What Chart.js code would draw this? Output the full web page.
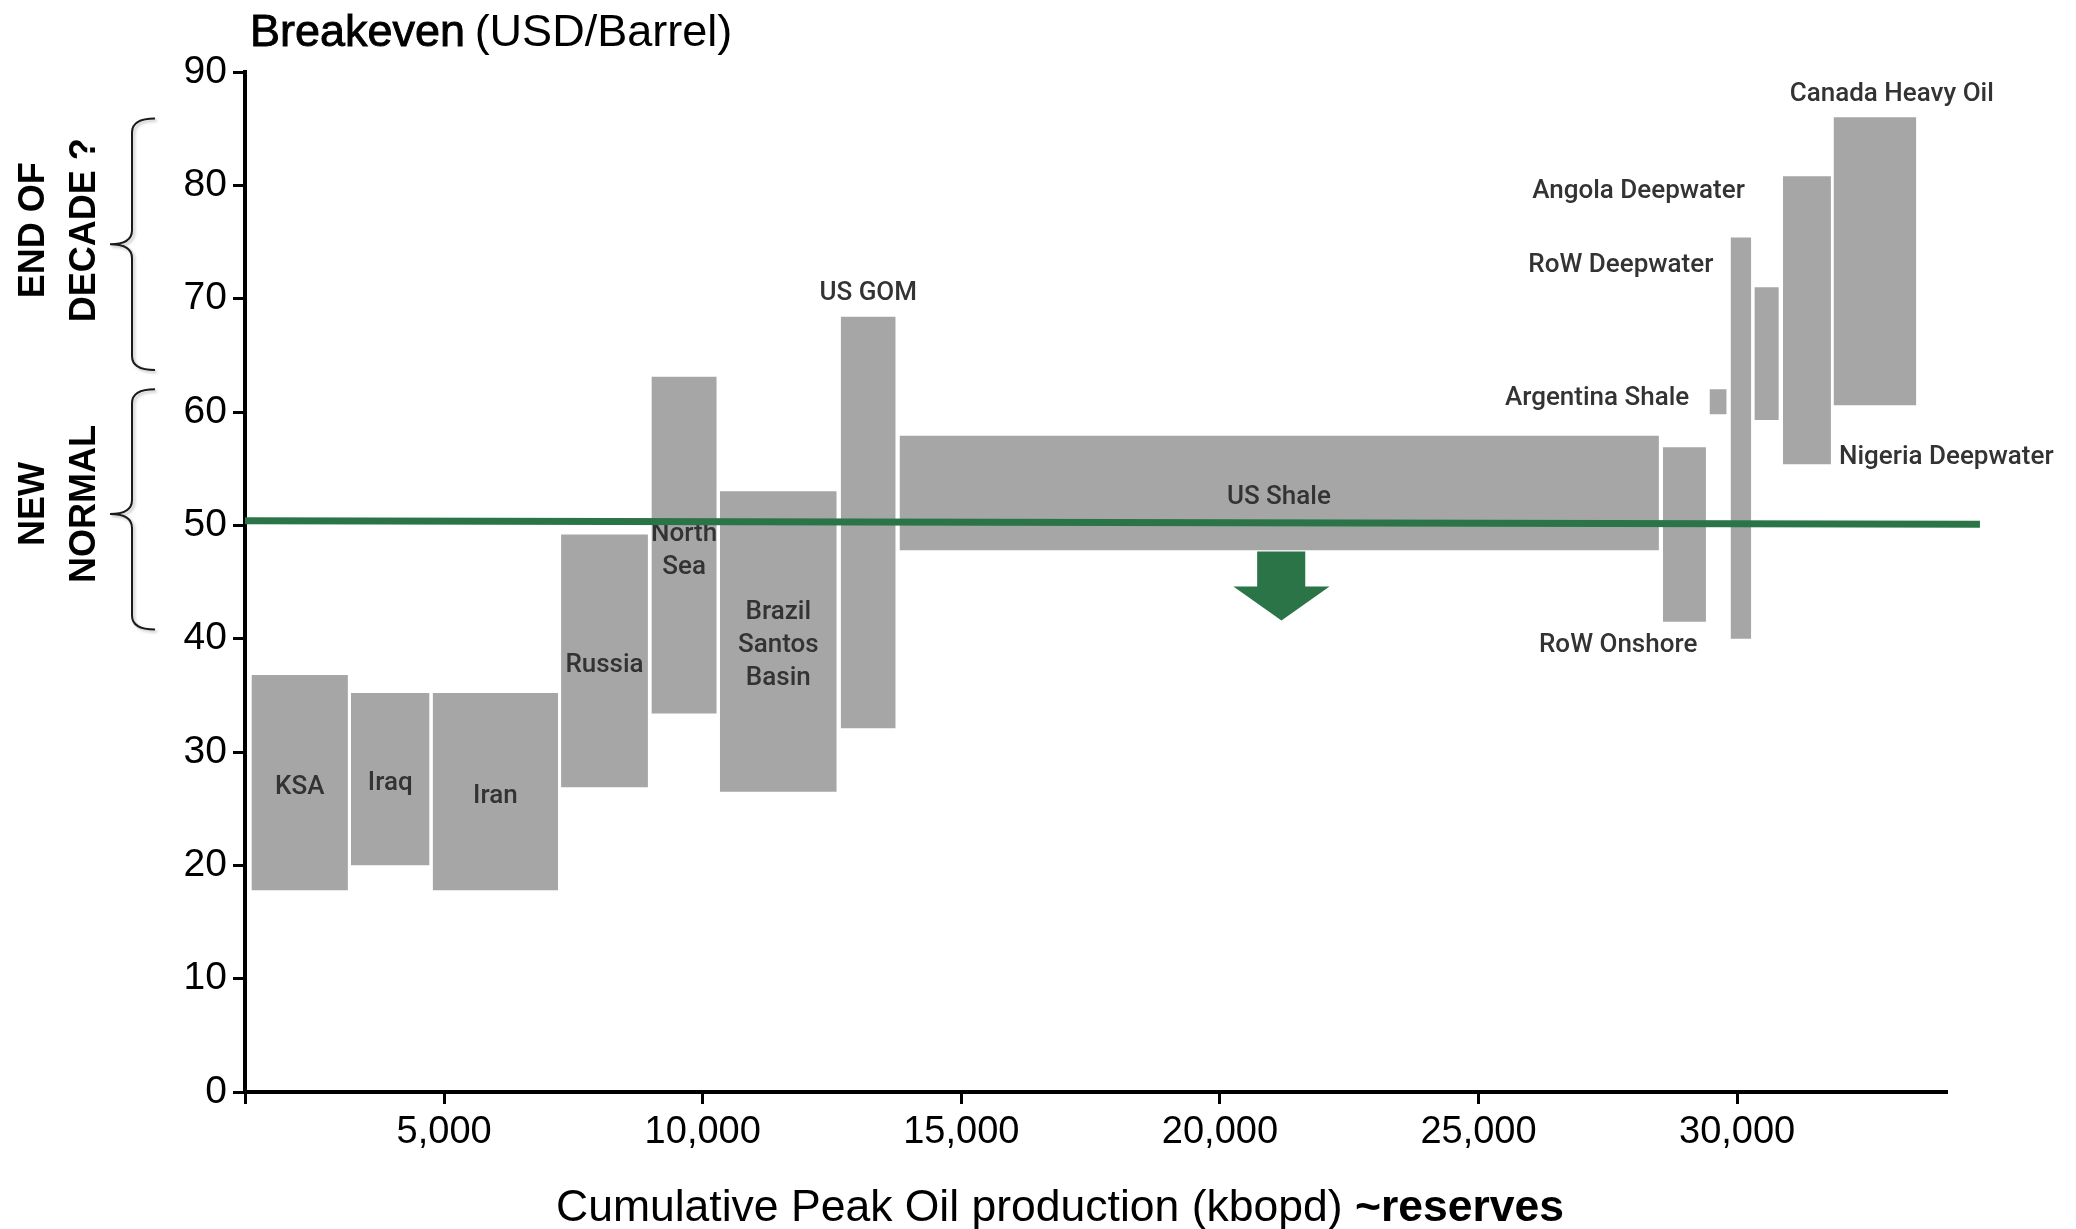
<!DOCTYPE html>
<html>
<head>
<meta charset="utf-8">
<title>Breakeven vs cumulative peak oil production</title>
<script src="https://cdn.jsdelivr.net/npm/chart.js@4.4.1/dist/chart.umd.min.js"></script>
<style>
  html, body { margin: 0; padding: 0; background: #ffffff; }
  #wrap { width: 2076px; height: 1229px; position: relative; }
</style>
</head>
<body>
<div id="wrap"><canvas id="chart" width="2076" height="1229"></canvas></div>
<script>
// ---- Data -----------------------------------------------------------------
// Each supply source: cumulative production span (kbopd) and breakeven range (USD/bbl)
const fields     = ['KSA', 'Iraq', 'Iran', 'Russia', 'North Sea', 'Brazil Santos Basin', 'US GOM',
                    'US Shale', 'RoW Onshore', 'Argentina Shale', 'RoW Deepwater', 'Nigeria Deepwater',
                    'Angola Deepwater', 'Canada Heavy Oil'];
const fieldStart = [1275, 3198, 4778, 7262, 9008, 10331, 12668, 13805, 28565, 29466, 29873, 30334, 30885, 31864];
const fieldEnd   = [3140, 4718, 7204, 8940, 10271, 12591, 13731, 28488, 29397, 29798, 30273, 30806, 31813, 33465];
const fieldLow   = [17.8, 20.0, 17.8, 26.9, 33.4, 26.5, 32.1, 47.8, 41.5, 59.8, 40.0, 59.3, 55.4, 60.6];
const fieldHigh  = [36.8, 35.2, 35.2, 49.2, 63.1, 53.0, 68.4, 57.9, 56.9, 62.0, 75.4, 71.0, 80.8, 86.0];

// "New normal" price line
const priceLineX = [1150, 34695];
const priceLineY = [50.4, 50.1];

// Axes
const xMin = 1150, xMax = 34058;
const xTickValues = [5000, 10000, 15000, 20000, 25000, 30000];
const yMin = 0, yMax = 90, yStep = 10;

// Text annotations, anchored in data units
const labelLines = [['KSA'], ['Iraq'], ['Iran'], ['Russia'], ['North', 'Sea'], ['Brazil', 'Santos', 'Basin'],
                    ['US GOM'], ['US Shale'], ['RoW Onshore'], ['Argentina Shale'], ['RoW Deepwater'],
                    ['Nigeria Deepwater'], ['Angola Deepwater'], ['Canada Heavy Oil']];
const labelX     = [null, null, null, null, null, null, null, 21140, 27700, 29075, 29540, 31970, 30150, 32990];
const labelY     = [27.1, 27.5, 26.3, 37.9, 48.0, 39.6, 70.7, 52.7, 39.6, 61.4, 73.2, 56.2, 79.7, 88.3];
const labelAlign = ['center', 'center', 'center', 'center', 'center', 'center', 'center', 'center',
                    'center', 'right', 'right', 'left', 'right', 'center'];

// Downward arrow under US Shale (data units)
const arrowShaft = { x0: 20720, x1: 21650, yTop: 47.7, yBase: 44.6 };
const arrowHead  = { x0: 20260, x1: 22120, yTip: 41.6 };

// Side brackets: [top, tip, bottom] in USD/bbl
const bracketEndOfDecade = [85.9, 74.8, 63.7];
const bracketNewNormal   = [62.0, 51.0, 40.8];

// ---- Styling ----------------------------------------------------------------
const GRAY = '#a6a6a6';
const GREEN = '#2b7448';
const LABEL_COLOR = '#333333';
const AXIS_FONT = "'Liberation Sans', Arial, Helvetica, sans-serif";
const LABEL_FONT = "Roboto, 'Liberation Sans', Arial, sans-serif";

// ---- Datasets -----------------------------------------------------------------
const datasets = [];
// index 0 is painted last, so the price line sits on top of the boxes
datasets.push({
  label: 'New normal',
  data: priceLineX.map((x, i) => ({ x, y: priceLineY[i] })),
  borderColor: GREEN,
  borderWidth: 7,
  borderCapStyle: 'butt',
  pointRadius: 0,
  fill: false,
  tension: 0,
  clip: false
});
fields.forEach((name, i) => {
  datasets.push({
    label: name,
    data: [{ x: fieldStart[i], y: fieldHigh[i] }, { x: fieldEnd[i], y: fieldHigh[i] }],
    borderColor: 'rgba(0,0,0,0)',
    borderWidth: 0,
    backgroundColor: GRAY,
    pointRadius: 0,
    tension: 0,
    fill: { value: fieldLow[i] }
  });
});

// ---- Drawing helpers ----------------------------------------------------------
function drawFieldLabels(chart) {
  const { ctx, scales: { x, y } } = chart;
  const size = 26, lineH = 33, capH = 0.711 * size;
  ctx.save();
  ctx.font = `500 ${size}px ${LABEL_FONT}`;
  ctx.fillStyle = LABEL_COLOR;
  ctx.textBaseline = 'alphabetic';
  labelLines.forEach((lines, i) => {
    const xv = labelX[i] !== null ? labelX[i] : (fieldStart[i] + fieldEnd[i]) / 2;
    const px = x.getPixelForValue(xv);
    const pyCenter = y.getPixelForValue(labelY[i]);
    ctx.textAlign = labelAlign[i];
    const first = pyCenter - (lines.length - 1) * lineH / 2;
    lines.forEach((t, k) => ctx.fillText(t, px, first + k * lineH + capH / 2));
  });
  ctx.restore();
}

function drawArrow(chart) {
  const { ctx, scales: { x, y } } = chart;
  const sx0 = x.getPixelForValue(arrowShaft.x0), sx1 = x.getPixelForValue(arrowShaft.x1);
  const hx0 = x.getPixelForValue(arrowHead.x0), hx1 = x.getPixelForValue(arrowHead.x1);
  const yTop = y.getPixelForValue(arrowShaft.yTop), yBase = y.getPixelForValue(arrowShaft.yBase);
  const yTip = y.getPixelForValue(arrowHead.yTip);
  ctx.save();
  ctx.fillStyle = GREEN;
  ctx.beginPath();
  ctx.moveTo(sx0, yTop);
  ctx.lineTo(sx1, yTop);
  ctx.lineTo(sx1, yBase);
  ctx.lineTo(hx1, yBase);
  ctx.lineTo((hx0 + hx1) / 2, yTip);
  ctx.lineTo(hx0, yBase);
  ctx.lineTo(sx0, yBase);
  ctx.closePath();
  ctx.fill();
  ctx.restore();
}

function drawBracket(ctx, yTop, yTip, yBot) {
  const xTip = 110, xStem = 132, xEnd = 155, r = 14;
  ctx.beginPath();
  ctx.moveTo(xEnd, yTop);
  ctx.quadraticCurveTo(xStem, yTop, xStem, yTop + r);
  ctx.lineTo(xStem, yTip - r);
  ctx.quadraticCurveTo(xStem, yTip, xTip, yTip);
  ctx.quadraticCurveTo(xStem, yTip, xStem, yTip + r);
  ctx.lineTo(xStem, yBot - r);
  ctx.quadraticCurveTo(xStem, yBot, xEnd, yBot);
  ctx.stroke();
}

function drawRotatedBlock(ctx, lines, cols, yCenter, size) {
  const capH = 0.716 * size;
  lines.forEach((t, i) => {
    ctx.save();
    ctx.translate(cols[i], yCenter);
    ctx.rotate(-Math.PI / 2);
    ctx.textAlign = 'center';
    ctx.textBaseline = 'alphabetic';
    ctx.fillText(t, 0, capH / 2);
    ctx.restore();
  });
}

function drawSideNotes(chart) {
  const { ctx, scales: { y } } = chart;
  ctx.save();
  ctx.strokeStyle = '#1a1a1a';
  ctx.lineWidth = 2;
  ctx.shadowColor = 'rgba(0,0,0,0.25)';
  ctx.shadowOffsetX = 2;
  ctx.shadowOffsetY = 2;
  ctx.shadowBlur = 3;
  const b1 = bracketEndOfDecade.map(v => y.getPixelForValue(v));
  const b2 = bracketNewNormal.map(v => y.getPixelForValue(v));
  drawBracket(ctx, b1[0], b1[1], b1[2]);
  drawBracket(ctx, b2[0], b2[1], b2[2]);
  ctx.restore();

  ctx.save();
  ctx.fillStyle = '#000';
  ctx.font = `bold 36px ${AXIS_FONT}`;
  drawRotatedBlock(ctx, ['END OF', 'DECADE ?'], [31, 82], b1[1] - 14, 36);
  drawRotatedBlock(ctx, ['NEW', 'NORMAL'], [31, 82], b2[1] - 10, 36);
  ctx.restore();
}

function drawTitles(chart) {
  const { ctx } = chart;
  ctx.save();
  ctx.fillStyle = '#000';
  ctx.strokeStyle = '#000';
  ctx.textBaseline = 'alphabetic';
  ctx.textAlign = 'left';
  // Y-axis caption
  ctx.font = `45px ${AXIS_FONT}`;
  const head = 'Breakeven';
  ctx.fillText(head, 250, 46);
  ctx.lineWidth = 0.9;
  ctx.strokeText(head, 250, 46);
  const w1 = ctx.measureText(head + ' ').width;
  ctx.fillText('(USD/Barrel)', 250 + w1 - 3, 46);
  // X-axis caption
  ctx.font = `44.5px ${AXIS_FONT}`;
  const part1 = 'Cumulative Peak Oil production (kbopd) ';
  ctx.fillText(part1, 556, 1221);
  const w2 = ctx.measureText(part1).width;
  ctx.font = `bold 44.5px ${AXIS_FONT}`;
  ctx.fillText('~reserves', 556 + w2, 1221);
  ctx.restore();
}

const annotations = {
  id: 'annotations',
  beforeDatasetDraw(chart, args) {
    if (args.index === 0) drawFieldLabels(chart);
  },
  afterDatasetsDraw(chart) {
    drawArrow(chart);
  },
  afterDraw(chart) {
    drawTitles(chart);
    drawSideNotes(chart);
  }
};

const axisGrid = {
  display: true,
  drawOnChartArea: false,
  drawTicks: true,
  tickLength: 12,
  tickWidth: 3,
  tickColor: '#000'
};

new Chart(document.getElementById('chart'), {
  type: 'line',
  data: { datasets },
  plugins: [annotations],
  options: {
    responsive: false,
    animation: false,
    events: [],
    layout: { padding: { left: 0, right: 129, top: 72, bottom: 0 } },
    plugins: { legend: { display: false }, tooltip: { enabled: false } },
    scales: {
      x: {
        type: 'linear',
        min: xMin,
        max: xMax,
        afterBuildTicks: s => { s.ticks = [xMin].concat(xTickValues).map(v => ({ value: v })); },
        afterFit: s => { s.height = 137; },
        ticks: {
          callback: v => (xTickValues.includes(v) ? v.toLocaleString('en-US') : ''),
          font: { family: AXIS_FONT, size: 38 },
          color: '#000',
          padding: 6,
          maxRotation: 0,
          autoSkip: false
        },
        grid: axisGrid,
        border: { display: true, color: '#000', width: 4 }
      },
      y: {
        min: yMin,
        max: yMax,
        afterFit: s => { s.width = 245; },
        ticks: {
          stepSize: yStep,
          font: { family: AXIS_FONT, size: 39 },
          color: '#000',
          padding: 6
        },
        grid: axisGrid,
        border: { display: true, color: '#000', width: 4 }
      }
    }
  }
});
</script>
</body>
</html>
